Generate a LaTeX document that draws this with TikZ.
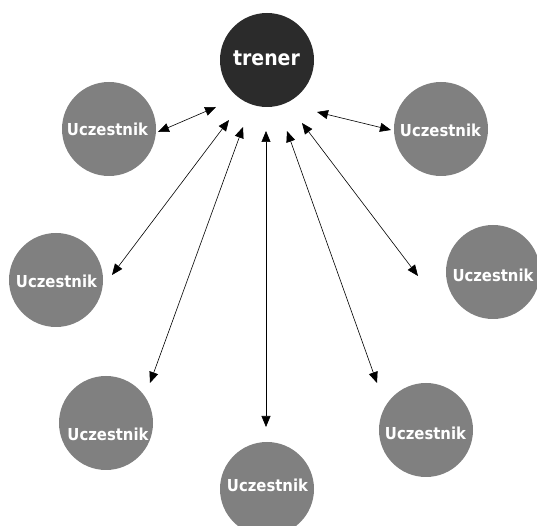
\documentclass[tikz,border=0pt]{standalone}
\usepackage{fontspec}
\setmainfont{DejaVu Sans Condensed}
\usetikzlibrary{arrows.meta}
\definecolor{darkc}{HTML}{2B2B2B}
\definecolor{partc}{HTML}{808080}
\begin{document}
\begin{tikzpicture}[x=1pt,y=1pt,
  disc/.style={circle,fill=partc,minimum size=94pt,inner sep=0pt},
  lbl/.style={anchor=base,text=white,font=\bfseries\fontsize{16.5}{16.5}\selectfont,inner sep=0pt},
  link/.style={{Triangle[length=11pt,width=9pt]}-{Triangle[length=11pt,width=9pt]},line width=0.6pt,black}]
\useasboundingbox (0,0) rectangle (537,526);
\clip (0,0) rectangle (537,526);
% trainer
\node[circle,fill=darkc,minimum size=94pt,inner sep=0pt] (tr) at (267,466) {};
\node[anchor=base,text=white,font=\bfseries\fontsize{21}{21}\selectfont,inner sep=0pt] (trl) at (266.5,460) {trener};
% participants
\node[disc] (u1) at (109,397) {};
\node[disc] (u2) at (441,397) {};
\node[disc] (u3) at (56,246) {};
\node[disc] (u4) at (493,254) {};
\node[disc] (u5) at (106,103) {};
\node[disc] (u6) at (267,37) {};
\node[disc] (u7) at (426,96) {};
\node[lbl] (l1) at (107.5,390) {Uczestnik};
\node[lbl] (l2) at (440.5,389) {Uczestnik};
\node[lbl] (l3) at (56.5,238) {Uczestnik};
\node[lbl] (l4) at (493,244) {Uczestnik};
\node[lbl] (l5) at (108,85) {Uczestnik};
\node[lbl] (l6) at (267.5,34) {Uczestnik};
\node[lbl] (l7) at (425.5,86) {Uczestnik};
% arrow ends
\coordinate (t1) at (216,419); \coordinate (e1) at (158,394);
\coordinate (t2) at (229,406); \coordinate (e2) at (112,251);
\coordinate (t3) at (243,399); \coordinate (e3) at (150,143);
\coordinate (t4) at (266,395); \coordinate (e4) at (266,99);
\coordinate (t5) at (287,395); \coordinate (e5) at (377,143);
\coordinate (t6) at (302,403); \coordinate (e6) at (418,250);
\coordinate (t7) at (317,414); \coordinate (e7) at (391,396);
\foreach \i in {1,...,7}{\draw[link] (t\i) -- (e\i);}
\end{tikzpicture}
\end{document}
